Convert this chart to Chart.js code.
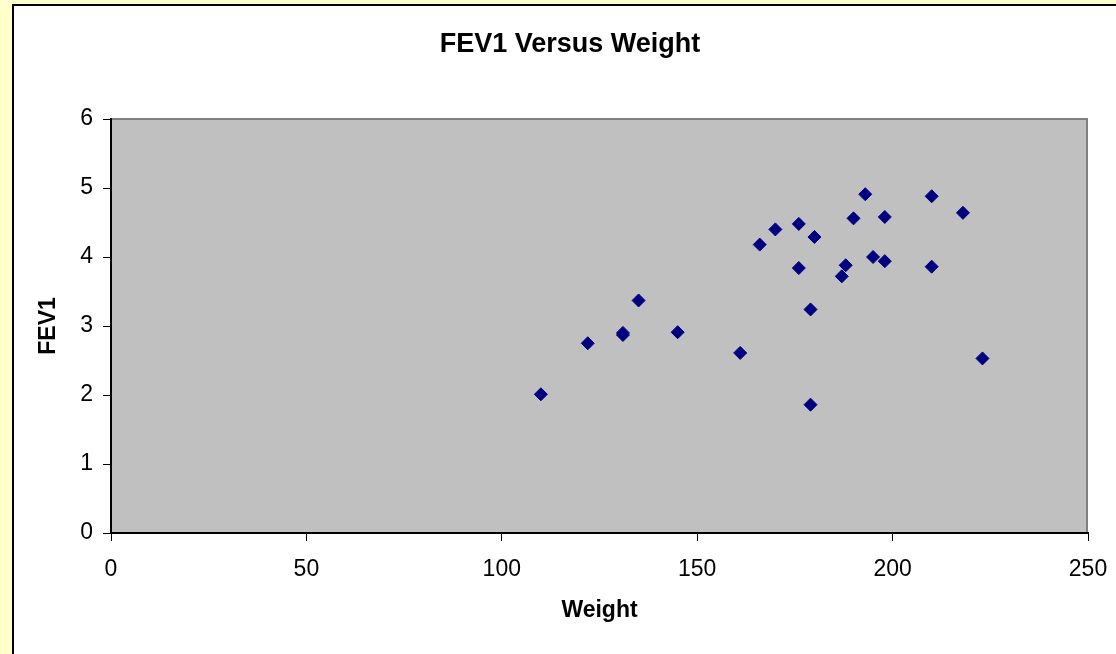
<!DOCTYPE html>
<html>
<head>
<meta charset="utf-8">
<script src="https://cdn.jsdelivr.net/npm/chart.js@4"></script>
<style>
  html, body { margin: 0; padding: 0; background: #FFFFCC; }
  #wrap { width: 1116px; height: 654px; }
</style>
</head>
<body>
<div id="wrap"><canvas id="fevChart" width="1116" height="654"></canvas></div>
<script>
// values
const weight = [110, 122, 131, 131, 135, 145, 161, 166, 170, 176, 176, 180, 179, 179, 193, 190, 198, 188, 187, 195, 198, 210, 210, 218, 223];
const fev1   = [2.01, 2.75, 2.87, 2.90, 3.37, 2.91, 2.61, 4.18, 4.40, 4.48, 3.84, 4.29, 3.24, 1.86, 4.91, 4.56, 4.58, 3.88, 3.72, 4.00, 3.94, 4.88, 3.86, 4.64, 2.53];
const xTicks = [0, 50, 100, 150, 200, 250];
const yTicks = [0, 1, 2, 3, 4, 5, 6];

const FONT = "'Liberation Sans', Arial, sans-serif";

// excel-ish frame + gray plot area
const framePlugin = {
  id: 'frame',
  beforeDraw(chart) {
    const { ctx, chartArea: a, width, height } = chart;
    ctx.save();
    ctx.fillStyle = '#FFFFCC';
    ctx.fillRect(0, 0, width, height);
    ctx.fillStyle = '#FFFFFF';
    ctx.fillRect(13, 5, width, height);
    ctx.strokeStyle = '#000000';
    ctx.lineWidth = 2;
    ctx.strokeRect(13, 5, width + 20, height + 20);
    ctx.fillStyle = '#C0C0C0';
    ctx.fillRect(a.left, a.top, a.right - a.left, a.bottom - a.top);
    ctx.strokeStyle = '#808080';
    ctx.lineWidth = 2;
    ctx.beginPath();
    ctx.moveTo(a.left, a.top);
    ctx.lineTo(a.right - 1, a.top);
    ctx.lineTo(a.right - 1, a.bottom);
    ctx.stroke();
    ctx.restore();
  }
};

const points = weight.map((w, i) => ({ x: w, y: fev1[i] }));

new Chart(document.getElementById('fevChart').getContext('2d'), {
  type: 'scatter',
  data: {
    datasets: [{
      label: 'FEV1',
      data: points,
      pointStyle: 'rectRot',
      pointRadius: 6.5,
      pointHoverRadius: 6.5,
      backgroundColor: '#000080',
      borderColor: '#000080',
      borderWidth: 1
    }]
  },
  options: {
    responsive: false,
    animation: false,
    layout: { padding: { left: 24, top: 0, right: 0, bottom: 0 } },
    plugins: {
      legend: { display: false },
      tooltip: { enabled: false },
      title: {
        display: true,
        text: 'FEV1 Versus Weight',
        color: '#000',
        font: { family: FONT, size: 27, weight: 'bold' },
        padding: { top: 28, bottom: 58.6 }
      }
    },
    scales: {
      x: {
        type: 'linear',
        min: 0, max: 250,
        afterBuildTicks: s => { s.ticks = xTicks.map(v => ({ value: v })); },
        afterFit: s => { s.height = 121; s.paddingLeft = 10; s.paddingRight = 20; },
        grid: { drawOnChartArea: false, drawTicks: true, tickLength: 8, color: '#000' },
        border: { display: true, color: '#000', width: 2 },
        ticks: { color: '#000', padding: 15, font: { family: FONT, size: 23 }, maxRotation: 0 },
        title: {
          display: true, text: 'Weight', color: '#000',
          font: { family: FONT, size: 23, weight: 'bold' },
          padding: { top: 0, bottom: 30 }
        }
      },
      y: {
        type: 'linear',
        min: 0, max: 6,
        afterBuildTicks: s => { s.ticks = yTicks.map(v => ({ value: v })); },
        afterFit: s => { s.width = 87; },
        grid: { drawOnChartArea: false, drawTicks: true, tickLength: 8, color: '#000' },
        border: { display: true, color: '#000', width: 2 },
        ticks: { color: '#000', padding: 10, font: { family: FONT, size: 23 } },
        title: {
          display: true, text: 'FEV1', color: '#000',
          font: { family: FONT, size: 23, weight: 'bold' },
          padding: { top: 11, bottom: 0 }
        }
      },
      // empty right axis, only to reserve the gap right of the plot
      y2: {
        type: 'linear',
        position: 'right',
        display: true,
        afterFit: s => { s.width = 28; },
        grid: { display: false },
        border: { display: false },
        ticks: { display: false }
      }
    }
  },
  plugins: [framePlugin]
});
</script>
</body>
</html>
